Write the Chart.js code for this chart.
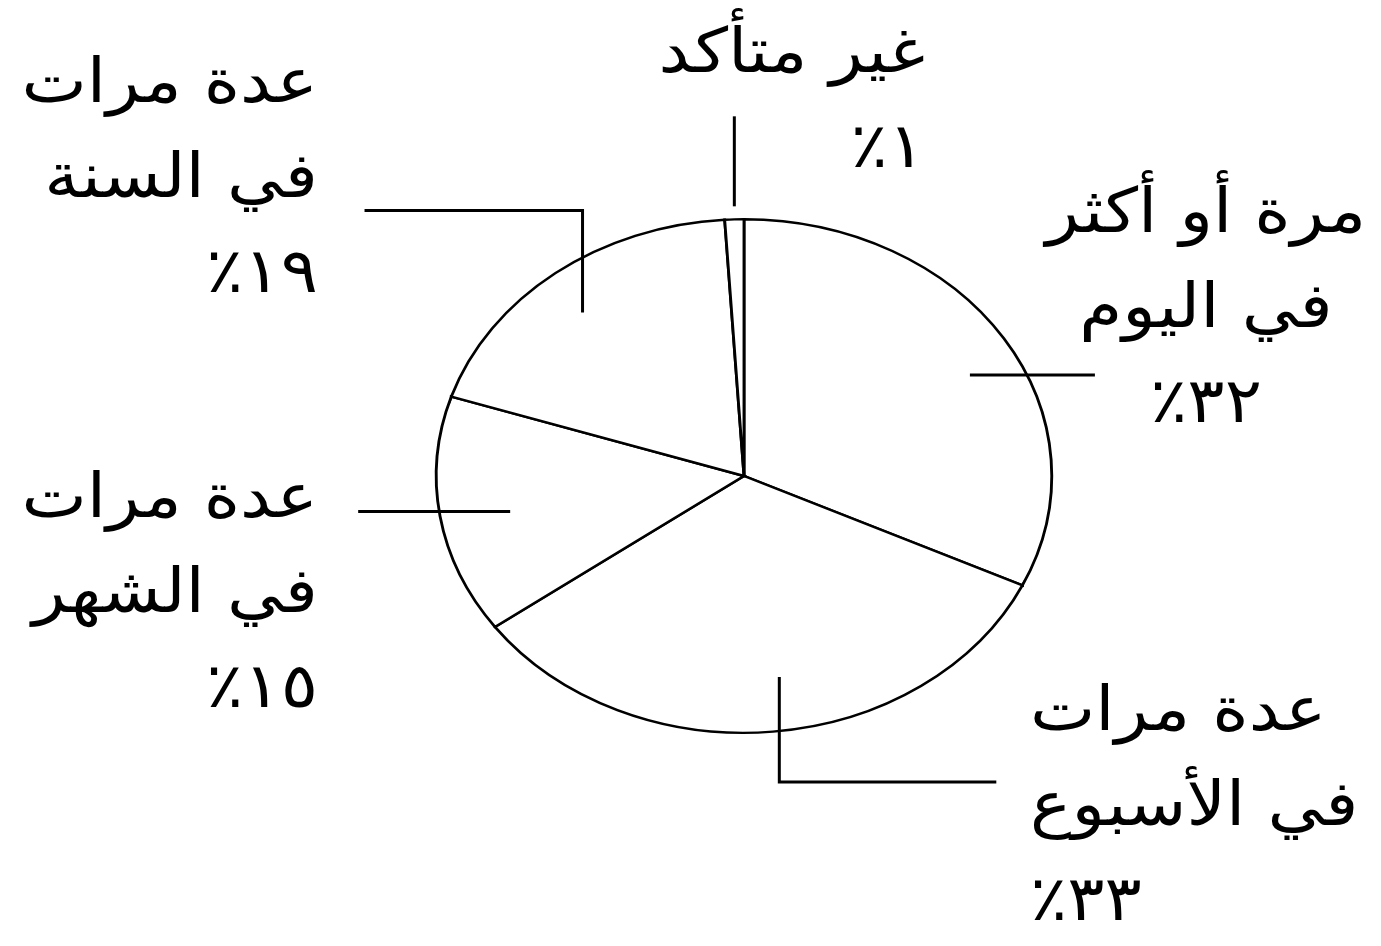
<!DOCTYPE html>
<html lang="ar">
<head>
<meta charset="utf-8">
<script src="https://cdn.jsdelivr.net/npm/chart.js@4"></script>
<style>
  html, body { margin: 0; padding: 0; background: #fff; }
  canvas { display: block; }
</style>
</head>
<body>
<canvas id="pie" width="1381" height="946"></canvas>
<script>
// data, clockwise from 12 o'clock
const categories = ["مرة أو أكثر في اليوم", "عدة مرات في الأسبوع", "عدة مرات في الشهر", "عدة مرات في السنة", "غير متأكد"];
const labelLines = [
  ["مرة أو أكثر", "في اليوم"],
  ["عدة مرات", "في الأسبوع"],
  ["عدة مرات", "في الشهر"],
  ["عدة مرات", "في السنة"],
  ["غير متأكد"]
];
const values = [32, 33, 15, 19, 1];

// label placement: where the leader touches the slice (fraction of its angle),
// the leader path relative to that rim point, and where the text block sits
const labelLayout = [
  { frac: 0.58, path: [[-57, 0], [68, 0]], x: 1206, y: 232, align: "center" },
  { frac: 0.49, path: [[0, -54], [0, 51], [217, 51]], x: 1030, y: 730, align: "left" },
  { frac: 0.52, path: [[-81, 0], [71, 0]], x: 318, y: 517, align: "right" },
  { frac: 0.59, path: [[0, 55], [0, -47], [-218, -47]], x: 318, y: 102, align: "right" },
  { frac: 0.5, path: [[0, -13], [0, -103]], x: 925, y: 72, align: "right" }
];
const stretchX = 308 / 257;   // the pie is drawn as an ellipse
const textStretch = 1.12;     // the original lettering is a wide face
const lineGap = 95;

const arabicDigits = "٠١٢٣٤٥٦٧٨٩";
const pct = v => String(v).replace(/\d/g, d => arabicDigits[d]) + "٪";

const ellipsePlugin = {
  id: "ellipse",
  beforeDatasetsDraw(chart) {
    const arc = chart.getDatasetMeta(0).data[0];
    const ctx = chart.ctx;
    ctx.save();
    ctx.translate(arc.x, arc.y);
    ctx.scale(stretchX, 1);
    ctx.translate(-arc.x, -arc.y);
  },
  afterDatasetsDraw(chart) {
    chart.ctx.restore();
  }
};

const labelPlugin = {
  id: "leaderLabels",
  afterDraw(chart) {
    const ctx = chart.ctx;
    const arcs = chart.getDatasetMeta(0).data;
    ctx.save();
    ctx.strokeStyle = "#000";
    ctx.fillStyle = "#000";
    ctx.lineWidth = 3;
    ctx.lineCap = "butt";
    ctx.font = "62px 'DejaVu Sans'";
    ctx.direction = "rtl";
    ctx.textBaseline = "alphabetic";
    arcs.forEach((arc, i) => {
      const lay = labelLayout[i];
      const a = arc.startAngle + (arc.endAngle - arc.startAngle) * lay.frac;
      const px = arc.x + Math.cos(a) * arc.outerRadius * stretchX;
      const py = arc.y + Math.sin(a) * arc.outerRadius;
      ctx.beginPath();
      lay.path.forEach((p, j) => {
        if (j === 0) ctx.moveTo(px + p[0], py + p[1]);
        else ctx.lineTo(px + p[0], py + p[1]);
      });
      ctx.stroke();

      const lines = labelLines[i].concat([pct(values[i])]);
      ctx.textAlign = lay.align;
      lines.forEach((t, k) => {
        ctx.save();
        ctx.letterSpacing = k === lines.length - 1 ? "12px" : "0px";
        ctx.translate(lay.x, lay.y + k * lineGap);
        ctx.scale(textStretch, 1);
        ctx.fillText(t, 0, 0);
        ctx.restore();
      });
    });
    ctx.restore();
  }
};

new Chart(document.getElementById("pie"), {
  type: "pie",
  data: {
    labels: categories,
    datasets: [{
      data: values,
      backgroundColor: "#fff",
      borderColor: "#000",
      borderWidth: 2.4,
      borderJoinStyle: "miter"
    }]
  },
  options: {
    responsive: false,
    animation: false,
    events: [],
    layout: { padding: { left: 486, right: 379, top: 218, bottom: 212 } },
    plugins: {
      legend: { display: false },
      tooltip: { enabled: false }
    }
  },
  plugins: [ellipsePlugin, labelPlugin]
});
</script>
</body>
</html>
